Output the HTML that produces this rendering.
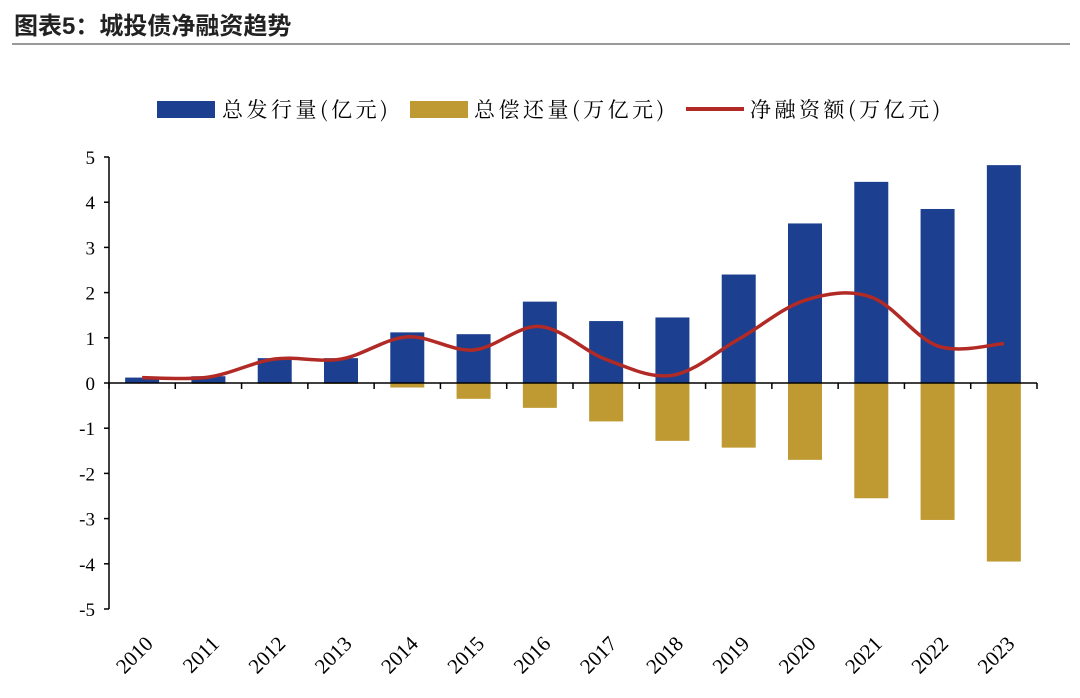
<!DOCTYPE html>
<html><head><meta charset="utf-8"><style>
body{margin:0;background:#fff;width:1080px;height:693px;overflow:hidden}
svg text{font-family:"Liberation Serif","Noto Serif CJK SC",serif}
</style></head><body>
<svg id="c" width="1080" height="693" xmlns="http://www.w3.org/2000/svg">
<text x="14" y="34" font-size="24" font-weight="bold" fill="#222" style="font-family:'Liberation Sans','Noto Sans CJK SC',sans-serif">图表5：城投债净融资趋势</text>
<line x1="12" y1="44" x2="1070" y2="44" stroke="#999" stroke-width="2"/>
<g font-size="21" letter-spacing="3.5">
<g><rect x="157" y="101" width="58" height="17" fill="#1c3f8f"/><text x="222" y="117" style="font-family:'Noto Serif CJK SC',serif">总发行量(亿元)</text></g>
<g><rect x="410" y="101" width="58" height="17" fill="#bf9a33"/><text x="474" y="117" style="font-family:'Noto Serif CJK SC',serif">总偿还量(万亿元)</text></g>
<g><line x1="686" y1="109" x2="744" y2="109" stroke="#b22a26" stroke-width="4"/><text x="750" y="117" style="font-family:'Noto Serif CJK SC',serif">净融资额(万亿元)</text></g>
</g>
<g id="plot"></g>
</svg>
<script>
const categories=['2010','2011','2012','2013','2014','2015','2016','2017','2018','2019','2020','2021','2022','2023'];
const issuance=[0.12,0.15,0.55,0.55,1.12,1.08,1.8,1.37,1.45,2.4,3.53,4.45,3.85,4.82];
const repayment=[0,-0.02,-0.02,-0.02,-0.1,-0.35,-0.55,-0.85,-1.28,-1.43,-1.7,-2.55,-3.03,-3.95];
const netFinancing=[0.12,0.13,0.53,0.53,1.02,0.73,1.25,0.52,0.17,0.97,1.83,1.9,0.82,0.87];
const yTicks=[5,4,3,2,1,0,-1,-2,-3,-4,-5];
const NS='http://www.w3.org/2000/svg';
const g=document.getElementById('plot');
const x0=109,x1=1037,yTop=157,yBot=609,vmax=5,vmin=-5;
const step=(x1-x0)/categories.length;
const y=v=>yTop+(vmax-v)/(vmax-vmin)*(yBot-yTop);
const xc=i=>x0+step*(i+0.5);
function mk(t,a){const e=document.createElementNS(NS,t);for(const k in a)e.setAttribute(k,a[k]);g.appendChild(e);return e;}
let e=mk('line',{x1:x0,y1:yTop,x2:x0,y2:yBot,stroke:'#000','stroke-width':1.5});


yTicks.forEach(v=>{
 let t=mk('line',{x1:x0-5,y1:y(v),x2:x0,y2:y(v),stroke:'#000','stroke-width':1.5});
 
 
 let l=mk('text',{x:x0-14,y:y(v)+7,'text-anchor':'end','font-size':19});
 l.textContent=v;
 
 
});
const bw=34;
categories.forEach((c,i)=>{
 let b=mk('rect',{x:xc(i)-bw/2,y:y(Math.max(issuance[i],0)),width:bw,height:Math.abs(y(issuance[i])-y(0)),fill:'#1c3f8f'});
 
 
 let r=mk('rect',{x:xc(i)-bw/2,y:y(0),width:bw,height:Math.abs(y(repayment[i])-y(0)),fill:'#bf9a33'});
 
 
 let lb=mk('text',{transform:`translate(${xc(i)+12},${y(-5)+36}) rotate(-45)`,'text-anchor':'end','font-size':21});
 lb.textContent=c;
 
 
});
e=mk('line',{x1:x0,y1:y(0),x2:x1,y2:y(0),stroke:'#000','stroke-width':1.5});


for(let i=0;i<=categories.length;i++){
 let t=mk('line',{x1:x0+step*i,y1:y(0),x2:x0+step*i,y2:y(0)+6,stroke:'#000','stroke-width':1.5});
 
 
}
const pts=netFinancing.map((v,i)=>[xc(i),y(v)]);
let d=`M${pts[0][0]},${pts[0][1]}`;
for(let i=0;i<pts.length-1;i++){
 const p0=pts[Math.max(i-1,0)],p1=pts[i],p2=pts[i+1],p3=pts[Math.min(i+2,pts.length-1)];
 const k=1/6;
 d+=` C${p1[0]+(p2[0]-p0[0])*k},${p1[1]+(p2[1]-p0[1])*k} ${p2[0]-(p3[0]-p1[0])*k},${p2[1]-(p3[1]-p1[1])*k} ${p2[0]},${p2[1]}`;
}
let ln=mk('path',{d:d,fill:'none',stroke:'#b22a26','stroke-width':3.5});


</script>
</body></html>
